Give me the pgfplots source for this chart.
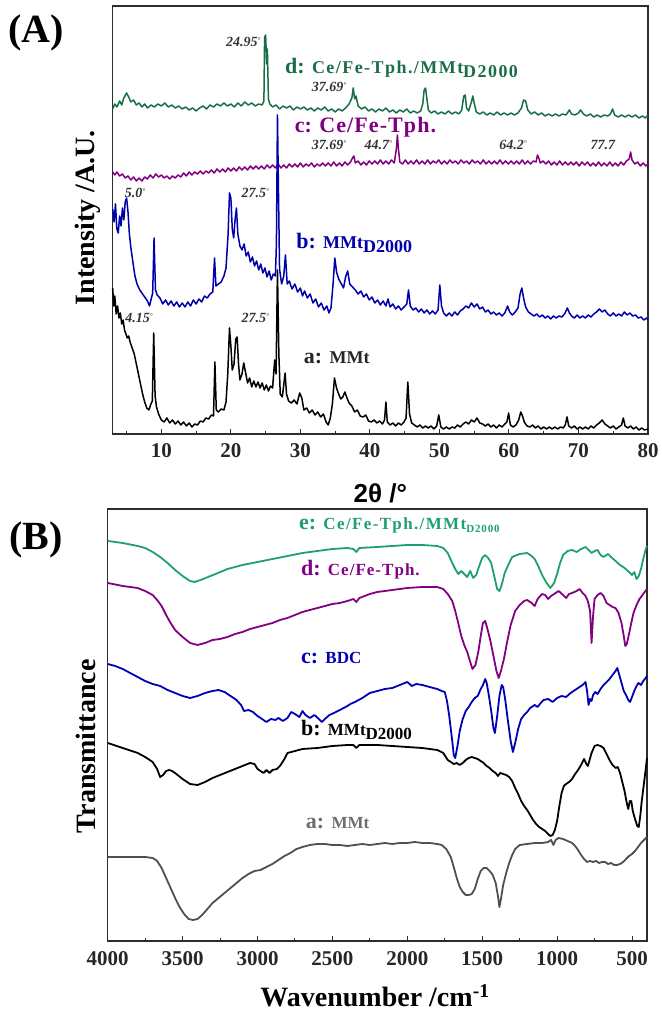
\documentclass[border=0pt]{standalone}
\usepackage{fontspec}
\setmainfont{Liberation Serif}
\newfontfamily\sansf{Liberation Sans}
\usepackage{pgfplots}
\pgfplotsset{compat=1.18}
\definecolor{Agreen}{RGB}{25,110,70}
\definecolor{Apurple}{RGB}{128,0,128}
\definecolor{Ablue}{RGB}{0,0,170}
\definecolor{Bgreen}{RGB}{30,160,110}
\definecolor{Bpurple}{RGB}{130,0,130}
\definecolor{Bblue}{RGB}{0,0,180}
\definecolor{Bgray}{RGB}{80,80,80}
\definecolor{Bgraytxt}{RGB}{110,110,110}
\definecolor{frame}{RGB}{45,45,45}
\newcommand\fs[1]{\fontsize{#1bp}{#1bp}\selectfont}
\newcommand\sub[1]{\raisebox{-0.4ex}{#1}}
\newcommand\ann[1]{{\fs{14}\bfseries\itshape #1}}
\newcommand\dg{\raisebox{0.7ex}{\fs{7}°}}
\pgfplotsset{panel/.style={scale only axis, anchor=south west,
  axis line style={frame, line width=1.2bp}, tick style={frame, line width=1bp},
  tick align=inside, major tick length=5bp, minor tick length=3bp,
  ytick=\empty, xtick pos=bottom,
  xticklabel style={font=\bfseries\fs{21}, text=black!85, anchor=base, yshift=-24bp},
  clip=false, every axis plot/.append style={line width=1.5bp, line join=round, mark=none}}}
\begin{document}
\begin{tikzpicture}
\path[use as bounding box] (0,0) rectangle (662bp,1012bp);
% ---------------- Panel A ----------------
\begin{axis}[panel, at={(112.7bp,578bp)}, width=535.3bp, height=428bp,
  xmin=3, xmax=80, ymin=0, ymax=428,
  xtick={10,20,...,80}, xticklabels={\textbf{10},\textbf{20},\textbf{30},\textbf{40},\textbf{50},\textbf{60},\textbf{70},\textbf{80}},
  minor xtick={5,15,...,75},
  xlabel={2θ /°}, xlabel style={font=\sansf\bfseries\fs{26}, at={(axis description cs:0.5,-0.1612)}, anchor=base},
  ylabel={Intensity /A.U.}, ylabel style={font=\bfseries\fs{28}, at={(axis description cs:-0.0461,0.505)}, anchor=center}]
\addplot[Agreen] coordinates {(3.0,325)(3.3,330)(3.6,327)(4.0,333)(4.3,329)(4.6,336)(5.0,341)(5.3,337)(5.6,332)(6.0,334)(6.4,329)(6.8,331)(7.2,327)(7.6,330)(8.0,326)(8.5,329)(9.0,327)(9.5,330)(10.0,328)(10.5,331)(11.0,327)(11.5,329)(12.0,326)(12.5,328)(13.0,325)(13.5,327)(14.0,324)(14.5,326)(15.0,323)(15.5,326)(16.0,328)(16.5,325)(17.0,329)(17.5,327)(18.0,330)(18.5,328)(19.0,331)(19.5,328)(20.0,330)(20.5,327)(21.0,331)(21.5,328)(22.0,332)(22.5,329)(23.0,331)(23.5,328)(24.0,330)(24.5,329)(24.75,333)(24.85,397)(25.0,399)(25.15,370)(25.25,385)(25.4,335)(25.6,330)(26.0,327)(26.5,329)(27.0,325)(27.5,328)(28.0,326)(28.5,328)(29.0,324)(29.5,327)(30.0,325)(30.5,327)(31.0,324)(31.5,326)(32.0,323)(32.5,326)(33.0,324)(33.5,327)(34.0,323)(34.5,325)(35.0,322)(35.5,325)(36.0,323)(36.5,326)(37.0,330)(37.4,336)(37.6,346)(37.8,335)(38.0,338)(38.3,328)(38.8,325)(39.3,327)(39.8,323)(40.3,325)(40.8,322)(41.3,325)(41.8,323)(42.3,326)(42.8,322)(43.3,324)(43.8,321)(44.3,324)(44.8,322)(45.3,325)(45.8,321)(46.3,323)(46.8,321)(47.3,323)(47.6,330)(47.8,344)(48.0,346)(48.2,335)(48.4,324)(48.8,321)(49.3,323)(49.8,320)(50.3,322)(50.8,320)(51.3,323)(51.8,320)(52.3,322)(52.8,320)(53.2,324)(53.5,338)(53.7,339)(53.9,326)(54.2,323)(54.6,332)(54.8,338)(55.0,331)(55.3,322)(55.8,320)(56.3,322)(56.8,319)(57.3,321)(57.8,319)(58.3,322)(58.8,319)(59.3,321)(59.8,319)(60.3,321)(60.8,319)(61.3,321)(61.8,326)(62.1,334)(62.4,333)(62.7,324)(63.2,320)(63.7,322)(64.2,319)(64.7,321)(65.2,318)(65.7,320)(66.2,318)(66.7,320)(67.2,318)(67.7,320)(68.2,319)(68.7,324)(69.0,320)(69.5,319)(70.0,321)(70.3,324)(70.7,320)(71.2,318)(71.7,320)(72.2,317)(72.7,319)(73.2,317)(73.7,319)(74.2,318)(74.6,320)(74.9,325)(75.2,319)(75.7,317)(76.2,319)(76.7,317)(77.2,319)(77.7,317)(78.2,319)(78.7,316)(79.2,318)(79.6,316)(80.0,319)};
\addplot[Apurple] coordinates {(3.0,262)(3.3,259)(3.6,262)(4.0,258)(4.4,260)(4.8,256)(5.2,258)(5.6,254)(6.0,257)(6.4,253)(6.8,256)(7.2,253)(7.6,257)(8.0,255)(8.4,259)(8.8,256)(9.2,260)(9.6,257)(10.0,259)(10.4,256)(10.8,258)(11.2,255)(11.6,258)(12.0,256)(12.4,259)(12.8,257)(13.2,261)(13.6,258)(14.0,262)(14.4,259)(14.8,262)(15.2,260)(15.6,263)(16.0,260)(16.4,263)(16.8,261)(17.2,264)(17.6,261)(18.0,265)(18.4,262)(18.8,265)(19.2,262)(19.6,266)(20.0,263)(20.4,266)(20.8,263)(21.2,267)(21.6,264)(22.0,267)(22.4,264)(22.8,268)(23.2,265)(23.6,268)(24.0,265)(24.4,268)(24.8,265)(25.2,269)(25.6,266)(26.0,269)(26.4,266)(26.8,270)(27.2,266)(27.6,269)(28.0,266)(28.4,270)(28.8,267)(29.2,270)(29.6,267)(30.0,271)(30.4,267)(30.8,270)(31.2,268)(31.6,271)(32.0,267)(32.4,270)(32.8,268)(33.2,271)(33.6,268)(34.0,271)(34.4,268)(34.8,272)(35.2,268)(35.6,271)(36.0,268)(36.4,272)(36.8,269)(37.2,272)(37.5,276)(37.7,278)(37.9,271)(38.3,273)(38.7,269)(39.1,272)(39.5,269)(39.9,273)(40.3,270)(40.7,273)(41.1,270)(41.5,274)(41.9,270)(42.3,273)(42.7,270)(43.1,274)(43.5,271)(43.8,285)(43.95,299)(44.1,285)(44.3,272)(44.7,270)(45.1,274)(45.5,270)(45.9,273)(46.3,270)(46.7,274)(47.1,270)(47.5,273)(47.9,270)(48.3,274)(48.7,270)(49.1,273)(49.5,271)(49.9,274)(50.3,270)(50.7,273)(51.1,270)(51.5,274)(51.9,271)(52.3,273)(52.7,270)(53.1,274)(53.5,271)(53.9,273)(54.3,270)(54.7,274)(55.1,271)(55.5,273)(55.9,270)(56.3,274)(56.7,270)(57.1,273)(57.5,270)(57.9,273)(58.3,270)(58.7,274)(59.1,270)(59.5,273)(59.9,270)(60.3,273)(60.7,270)(61.1,273)(61.5,270)(61.9,274)(62.3,270)(62.7,273)(63.1,270)(63.5,273)(63.9,272)(64.1,279)(64.3,276)(64.5,271)(64.9,273)(65.3,270)(65.7,273)(66.1,269)(66.5,272)(66.9,269)(67.3,273)(67.7,269)(68.1,272)(68.5,269)(68.9,272)(69.3,269)(69.7,272)(70.1,268)(70.5,272)(70.9,269)(71.3,272)(71.7,268)(72.1,271)(72.5,268)(72.9,272)(73.3,268)(73.7,271)(74.1,268)(74.5,272)(74.9,268)(75.3,271)(75.7,268)(76.1,272)(76.5,269)(76.9,273)(77.3,275)(77.5,282)(77.7,274)(78.1,270)(78.5,272)(78.9,268)(79.3,271)(79.7,268)(80.0,270)};
\addplot[Ablue] coordinates {(3.0,225)(3.2,212)(3.4,230)(3.6,205)(3.8,201)(4.0,218)(4.2,208)(4.4,226)(4.6,214)(4.8,232)(5.0,236)(5.2,222)(5.4,200)(5.6,187)(5.9,172)(6.2,158)(6.5,150)(6.9,144)(7.2,141)(7.6,137)(8.0,133)(8.3,128)(8.5,134)(8.75,141)(8.95,196)(9.15,144)(9.4,139)(9.8,136)(10.2,130)(10.6,134)(11.0,129)(11.4,133)(11.8,128)(12.2,132)(12.6,127)(13.0,131)(13.4,127)(13.8,132)(14.2,128)(14.6,134)(15.0,130)(15.4,135)(15.8,132)(16.2,138)(16.6,136)(17.0,140)(17.4,142)(17.65,176)(17.85,148)(18.2,150)(18.6,152)(19.0,158)(19.3,166)(19.6,200)(19.8,241)(20.0,236)(20.2,205)(20.4,196)(20.6,214)(20.8,226)(21.0,200)(21.3,188)(21.6,184)(21.9,190)(22.2,178)(22.5,182)(22.8,172)(23.1,177)(23.4,168)(23.7,173)(24.0,164)(24.3,170)(24.6,161)(24.9,166)(25.2,157)(25.5,163)(25.8,154)(26.1,160)(26.4,158)(26.55,190)(26.7,319)(26.85,240)(27.0,165)(27.3,150)(27.6,158)(27.85,179)(28.1,150)(28.4,153)(28.8,145)(29.2,150)(29.6,142)(30.0,146)(30.3,138)(30.6,143)(31.0,136)(31.4,140)(31.8,131)(32.2,135)(32.6,127)(33.0,131)(33.4,124)(33.8,128)(34.1,121)(34.4,126)(34.7,150)(34.95,176)(35.2,162)(35.5,155)(35.9,150)(36.2,146)(36.5,157)(36.8,163)(37.1,150)(37.5,147)(37.9,144)(38.3,140)(38.7,143)(39.1,137)(39.5,140)(39.9,134)(40.3,137)(40.7,131)(41.1,134)(41.5,129)(41.9,133)(42.3,128)(42.6,135)(42.9,127)(43.3,130)(43.7,125)(44.1,128)(44.5,124)(44.9,127)(45.3,130)(45.55,144)(45.8,128)(46.2,124)(46.6,126)(47.0,122)(47.4,125)(47.8,121)(48.2,124)(48.6,120)(49.0,123)(49.4,120)(49.8,124)(50.05,149)(50.3,128)(50.6,121)(51.0,118)(51.4,121)(51.8,118)(52.2,122)(52.6,119)(53.0,123)(53.4,125)(53.8,128)(54.2,126)(54.6,131)(55.0,127)(55.4,130)(55.8,125)(56.2,127)(56.6,122)(57.0,124)(57.4,120)(57.8,122)(58.2,119)(58.6,121)(59.0,118)(59.4,121)(59.8,128)(60.1,122)(60.5,119)(60.9,122)(61.3,126)(61.6,140)(61.85,146)(62.1,136)(62.4,127)(62.8,122)(63.2,120)(63.6,118)(64.0,120)(64.4,117)(64.8,119)(65.2,116)(65.6,118)(66.0,115)(66.4,118)(66.8,116)(67.2,118)(67.6,117)(68.0,120)(68.4,126)(68.7,121)(69.0,118)(69.4,116)(69.8,119)(70.2,116)(70.6,118)(71.0,116)(71.4,119)(71.8,117)(72.2,120)(72.6,122)(73.0,125)(73.4,122)(73.8,124)(74.2,120)(74.6,118)(75.0,121)(75.4,118)(75.8,120)(76.2,118)(76.6,122)(77.0,119)(77.4,121)(77.8,118)(78.2,119)(78.6,116)(79.0,117)(79.4,114)(79.8,116)(80.0,114)};
\addplot[black] coordinates {(3.0,146)(3.15,128)(3.3,138)(3.5,120)(3.7,128)(3.9,116)(4.1,121)(4.3,110)(4.5,114)(4.7,104)(4.9,100)(5.1,96)(5.3,98)(5.5,92)(5.8,86)(6.1,80)(6.4,70)(6.7,60)(7.0,50)(7.3,40)(7.6,32)(7.9,26)(8.2,24)(8.5,30)(8.7,33)(8.9,101)(9.1,38)(9.3,27)(9.6,20)(10.0,14)(10.4,12)(10.8,16)(11.2,11)(11.6,14)(12.0,10)(12.4,13)(12.8,9)(13.2,12)(13.6,8)(14.0,11)(14.4,7)(14.8,10)(15.2,9)(15.6,13)(16.0,12)(16.4,16)(16.8,15)(17.2,19)(17.5,18)(17.7,72)(17.9,24)(18.2,22)(18.6,25)(19.0,24)(19.3,32)(19.55,60)(19.8,106)(20.0,88)(20.2,64)(20.45,70)(20.7,95)(20.9,97)(21.1,70)(21.3,54)(21.6,60)(21.85,71)(22.1,62)(22.4,51)(22.7,56)(23.0,47)(23.3,53)(23.6,47)(23.9,52)(24.2,46)(24.5,51)(24.8,44)(25.1,49)(25.4,43)(25.7,48)(26.0,46)(26.3,74)(26.5,60)(26.7,164)(26.9,80)(27.1,40)(27.4,37)(27.8,61)(28.0,40)(28.3,33)(28.7,31)(29.1,34)(29.5,30)(29.9,41)(30.2,36)(30.5,24)(30.9,26)(31.3,21)(31.7,24)(32.1,19)(32.5,22)(32.9,17)(33.3,20)(33.7,12)(34.0,9)(34.3,16)(34.6,30)(34.9,56)(35.2,46)(35.5,40)(35.8,35)(36.1,37)(36.4,42)(36.7,36)(37.0,31)(37.4,28)(37.8,22)(38.2,24)(38.6,18)(39.0,17)(39.4,19)(39.8,13)(40.2,12)(40.6,14)(41.0,11)(41.4,13)(41.8,10)(42.1,14)(42.3,32)(42.5,12)(42.9,9)(43.3,11)(43.7,8)(44.1,11)(44.5,9)(44.9,12)(45.2,16)(45.45,52)(45.7,20)(46.0,11)(46.4,9)(46.8,7)(47.2,9)(47.6,6)(48.0,8)(48.4,6)(48.8,8)(49.2,5)(49.6,8)(49.9,19)(50.2,7)(50.6,5)(51.0,7)(51.4,5)(51.8,7)(52.2,6)(52.6,9)(53.0,7)(53.4,10)(53.8,12)(54.2,10)(54.6,14)(55.0,12)(55.4,16)(55.8,11)(56.2,10)(56.6,8)(57.0,10)(57.4,7)(57.8,9)(58.2,6)(58.6,9)(59.0,7)(59.4,10)(59.7,12)(59.95,21)(60.2,9)(60.6,7)(61.0,9)(61.4,14)(61.7,22)(61.95,18)(62.2,12)(62.6,8)(63.0,7)(63.4,9)(63.8,6)(64.2,8)(64.6,5)(65.0,7)(65.4,5)(65.8,7)(66.2,5)(66.6,7)(67.0,5)(67.4,7)(67.8,6)(68.1,9)(68.35,17)(68.6,8)(69.0,6)(69.4,8)(69.8,5)(70.2,7)(70.6,5)(71.0,7)(71.4,5)(71.8,8)(72.2,6)(72.6,9)(73.0,11)(73.4,14)(73.8,10)(74.2,8)(74.6,6)(75.0,8)(75.4,5)(75.8,7)(76.2,9)(76.45,16)(76.7,8)(77.1,6)(77.5,8)(77.9,5)(78.3,7)(78.7,4)(79.1,6)(79.5,4)(80.0,5)};
% annotations
\node[anchor=east, text=black!80] at (axis cs:24.75,392) {\ann{24.95\dg}};
\node[anchor=west, text=Agreen, font=\bfseries] at (axis cs:27.3,366) {\fs{22}d: \fs{18}\addfontfeatures{LetterSpace=8}Ce/Fe-Tph./MMt\sub{D2000}};
\node[text=black!80] at (axis cs:34.1,347) {\ann{37.69\dg}};
\node[anchor=west, text=Apurple, font=\bfseries] at (axis cs:28.7,307) {\fs{22}c: \addfontfeatures{LetterSpace=5}Ce/Fe-Tph.};
\node[text=black!80] at (axis cs:34.1,289) {\ann{37.69\dg}};
\node[text=black!80] at (axis cs:41.2,289) {\ann{44.7\dg}};
\node[text=black!80] at (axis cs:60.6,289) {\ann{64.2\dg}};
\node[text=black!80] at (axis cs:73.5,289) {\ann{77.7}};
\node[text=black!80] at (axis cs:6.2,241) {\ann{5.0\dg}};
\node[text=black!80] at (axis cs:23.5,241) {\ann{27.5\dg}};
\node[anchor=west, text=Ablue, font=\bfseries] at (axis cs:28.9,191) {\fs{22}b: \fs{18}MMt\sub{D2000}};
\node[text=black!80] at (axis cs:6.8,116) {\ann{4.15\dg}};
\node[text=black!80] at (axis cs:23.5,116) {\ann{27.5\dg}};
\node[anchor=west, text=black!85, font=\bfseries] at (axis cs:30,76) {\fs{22}a: \fs{18}MMt};
\end{axis}
% ---------------- Panel B ----------------
\begin{axis}[panel, at={(107.7bp,71bp)}, width=539.3bp, height=432bp,
  x dir=reverse, xmin=400, xmax=4000, ymin=0, ymax=432,
  xtick={500,1000,...,4000}, xticklabels={\textbf{500},\textbf{1000},\textbf{1500},\textbf{2000},\textbf{2500},\textbf{3000},\textbf{3500},\textbf{4000}},
  minor xtick={750,1250,...,3750},
  every axis plot/.append style={line width=1.8bp},
  xlabel={Wavenumber /cm\textsuperscript{-1}}, xlabel style={font=\bfseries\fs{28}, at={(axis description cs:0.4957,-0.152)}, anchor=base},
  ylabel={Transmittance}, ylabel style={font=\bfseries\fs{28}, at={(axis description cs:-0.0402,0.451)}, anchor=center}]
\addplot[Bgreen] coordinates {(4000,400)(3900,398)(3800,395)(3750,393)(3700,389)(3650,384)(3600,378)(3550,371)(3500,365)(3450,360)(3420,359)(3380,361)(3330,364)(3280,367)(3200,372)(3100,376)(3000,379)(2900,382)(2800,385)(2700,388)(2600,390)(2500,392)(2400,393)(2360,392)(2340,389)(2320,393)(2200,394)(2100,395)(2000,396)(1900,396)(1800,395)(1760,393)(1730,388)(1700,378)(1680,372)(1660,367)(1640,370)(1620,367)(1600,364)(1580,370)(1560,363)(1540,366)(1520,375)(1500,383)(1480,386)(1460,383)(1440,378)(1420,365)(1400,352)(1385,350)(1370,356)(1350,368)(1320,378)(1300,384)(1250,387)(1200,388)(1170,385)(1150,382)(1120,373)(1100,366)(1070,358)(1045,353)(1020,358)(1000,367)(980,378)(960,386)(930,390)(900,391)(870,389)(840,392)(810,394)(790,391)(770,388)(750,390)(730,391)(710,386)(690,384)(660,387)(640,384)(610,380)(580,376)(550,373)(520,369)(500,366)(485,369)(470,362)(455,365)(440,372)(425,382)(410,391)(400,395)};
\addplot[Bpurple] coordinates {(4000,358)(3900,355)(3800,353)(3750,350)(3700,346)(3670,341)(3640,335)(3610,326)(3580,318)(3550,311)(3500,304)(3450,298)(3400,296)(3350,298)(3300,301)(3250,302)(3200,304)(3150,307)(3100,309)(3050,312)(3000,314)(2950,316)(2900,318)(2850,321)(2800,323)(2750,326)(2700,329)(2650,331)(2600,333)(2550,335)(2500,337)(2450,338)(2400,340)(2360,342)(2340,339)(2320,343)(2250,347)(2200,349)(2100,351)(2000,353)(1900,354)(1800,354)(1760,352)(1730,347)(1700,340)(1680,330)(1660,318)(1640,305)(1620,296)(1600,289)(1580,279)(1565,272)(1545,276)(1525,290)(1510,305)(1495,318)(1480,320)(1465,312)(1445,300)(1425,285)(1405,270)(1390,263)(1375,270)(1355,282)(1335,298)(1310,316)(1280,330)(1250,336)(1220,340)(1200,341)(1170,338)(1150,335)(1130,342)(1100,347)(1080,346)(1060,342)(1040,345)(1010,348)(990,350)(960,346)(940,343)(920,347)(900,348)(870,350)(850,352)(830,348)(810,345)(795,340)(780,330)(770,298)(760,325)(750,342)(730,346)(710,348)(690,345)(670,338)(650,336)(630,334)(610,333)(590,328)(570,318)(555,305)(545,295)(535,297)(520,307)(505,318)(490,328)(470,336)(450,342)(430,346)(415,349)(400,352)};
\addplot[Bblue] coordinates {(4000,277)(3950,275)(3900,272)(3850,268)(3800,264)(3750,260)(3700,257)(3650,255)(3600,251)(3550,248)(3500,245)(3450,243)(3400,245)(3350,248)(3300,250)(3260,251)(3220,249)(3180,245)(3140,241)(3110,236)(3090,230)(3060,231)(3030,229)(3000,225)(2970,222)(2940,219)(2910,222)(2880,221)(2860,223)(2830,220)(2800,223)(2775,229)(2750,227)(2720,224)(2700,230)(2680,226)(2650,223)(2620,226)(2590,222)(2570,219)(2550,222)(2520,226)(2490,228)(2450,231)(2400,235)(2380,237)(2350,239)(2300,243)(2250,248)(2200,250)(2150,252)(2100,253)(2050,256)(2000,259)(1970,255)(1940,257)(1900,256)(1850,254)(1800,252)(1770,250)(1750,249)(1735,240)(1720,225)(1700,200)(1690,186)(1680,183)(1665,195)(1650,210)(1630,222)(1610,230)(1590,234)(1570,239)(1550,243)(1530,245)(1510,252)(1495,256)(1480,262)(1470,258)(1455,245)(1440,230)(1425,213)(1415,208)(1400,225)(1385,245)(1370,256)(1360,254)(1345,240)(1330,222)(1310,200)(1295,189)(1280,198)(1260,212)(1240,222)(1220,226)(1200,229)(1180,233)(1150,236)(1130,234)(1110,238)(1090,241)(1060,242)(1030,239)(1000,243)(970,245)(940,244)(910,248)(880,251)(850,254)(830,256)(810,259)(800,250)(790,236)(780,242)(770,240)(760,246)(745,249)(730,247)(710,252)(690,256)(670,259)(650,262)(630,266)(610,270)(598,273)(585,266)(570,258)(555,250)(540,246)(525,241)(513,239)(500,244)(485,250)(470,255)(457,258)(440,256)(425,260)(414,262)(400,265)};
\addplot[black] coordinates {(4000,198)(3900,193)(3800,188)(3750,184)(3700,179)(3670,172)(3650,164)(3630,166)(3610,170)(3590,171)(3570,170)(3550,168)(3500,162)(3450,157)(3400,156)(3350,159)(3300,163)(3250,166)(3200,169)(3150,172)(3100,175)(3050,178)(3020,177)(3000,172)(2980,170)(2960,168)(2940,171)(2920,168)(2900,171)(2870,172)(2850,175)(2820,182)(2800,188)(2750,190)(2700,192)(2600,193)(2500,195)(2400,196)(2360,196)(2340,193)(2320,196)(2200,196)(2100,195)(2000,194)(1900,193)(1800,191)(1760,188)(1730,181)(1710,179)(1690,177)(1670,178)(1650,176)(1630,178)(1610,181)(1590,183)(1570,184)(1550,183)(1530,182)(1510,180)(1490,178)(1470,175)(1450,173)(1430,170)(1410,168)(1395,165)(1380,168)(1360,167)(1340,166)(1320,164)(1300,160)(1280,153)(1260,147)(1240,140)(1220,135)(1200,131)(1180,126)(1160,121)(1140,117)(1120,114)(1100,112)(1080,110)(1060,107)(1045,105)(1030,106)(1015,111)(1000,120)(985,135)(970,148)(955,155)(940,157)(920,159)(900,162)(880,167)(860,171)(840,176)(820,182)(805,177)(795,175)(785,180)(770,188)(750,195)(730,196)(710,195)(690,193)(670,187)(650,181)(630,176)(610,173)(595,174)(580,168)(565,159)(550,150)(535,138)(525,132)(515,140)(505,140)(495,130)(480,122)(465,115)(455,114)(445,125)(435,140)(420,158)(410,170)(400,183)};
\addplot[Bgray] coordinates {(4000,84)(3900,84)(3800,84)(3750,84)(3700,83)(3670,80)(3640,73)(3610,63)(3580,53)(3550,43)(3520,34)(3490,27)(3460,22)(3430,21)(3400,22)(3370,26)(3340,31)(3300,38)(3260,43)(3220,48)(3180,53)(3140,58)(3100,63)(3060,67)(3020,70)(2980,71)(2940,74)(2900,77)(2860,81)(2820,85)(2780,88)(2740,92)(2700,94)(2650,96)(2600,97)(2550,97)(2500,96)(2450,96)(2400,95)(2350,96)(2300,97)(2250,96)(2200,97)(2150,98)(2100,97)(2050,98)(2000,98)(1950,99)(1900,98)(1850,98)(1800,97)(1770,96)(1740,92)(1710,84)(1690,74)(1670,63)(1650,54)(1630,49)(1610,46)(1590,46)(1570,47)(1550,52)(1530,62)(1510,70)(1490,73)(1470,73)(1450,70)(1430,66)(1410,58)(1395,45)(1385,34)(1375,42)(1360,56)(1340,68)(1320,78)(1300,86)(1280,92)(1250,96)(1200,97)(1150,98)(1100,98)(1060,99)(1040,101)(1025,96)(1010,101)(990,103)(960,102)(930,100)(900,98)(880,95)(860,91)(840,86)(820,82)(800,79)(780,80)(760,79)(740,80)(720,78)(700,79)(680,79)(660,77)(640,78)(620,76)(600,76)(580,77)(560,79)(540,82)(520,85)(500,87)(480,90)(460,94)(440,98)(420,101)(400,104)};
\node[anchor=west, text=Bgreen, font=\bfseries] at (axis cs:2746,416) {\fs{22}e: \fs{17}\addfontfeatures{LetterSpace=8}Ce/Fe-Tph./MMt\sub{\fs{11}D2000}};
\node[anchor=west, text=Bpurple, font=\bfseries] at (axis cs:2733,371) {\fs{22}d: \fs{17}\addfontfeatures{LetterSpace=6}Ce/Fe-Tph.};
\node[anchor=west, text=Bblue, font=\bfseries] at (axis cs:2733,283) {\fs{22}c: \fs{17}BDC};
\node[anchor=west, text=black, font=\bfseries] at (axis cs:2733,211) {\fs{22}b: \fs{17}MMt\sub{D2000}};
\node[anchor=west, text=Bgraytxt, font=\bfseries] at (axis cs:2700,118) {\fs{22}a: \fs{17}MMt};
\end{axis}
\node[font=\bfseries\fs{40}] at (36bp,979bp) {(A)};
\node[font=\bfseries\fs{40}] at (36bp,472bp) {(B)};
\end{tikzpicture}
\end{document}
